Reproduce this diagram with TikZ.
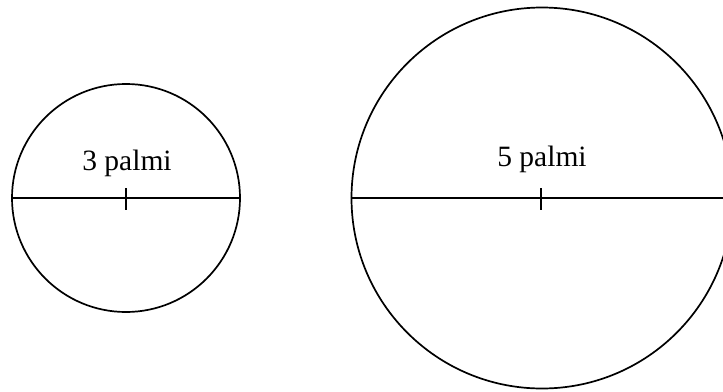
\documentclass[tikz,border=0pt]{standalone}
\usepackage{fontspec}
\setmainfont{Liberation Serif}
\begin{document}
\begin{tikzpicture}[x=1pt,y=-1pt,
  disc/.style={circle,draw,line width=1.7pt,inner sep=0pt,minimum size=#1},
  dia/.style={line width=1.8pt},
  tick/.style={line width=1.7pt},
  lab/.style={font=\fontsize{29.5}{31}\selectfont,inner sep=0pt}]
\useasboundingbox (0,0) rectangle (723,391);
\clip (0,0) rectangle (723,391);
\node[disc=228pt] (s) at (126,198) {};
\node[disc=381pt] (b) at (542,198) {};
\draw[dia] (s.west) -- (s.east);
\draw[dia] (b.west) -- (b.east);
\coordinate (st1) at (126,188);
\coordinate (st2) at (126,210);
\coordinate (bt1) at (541,188);
\coordinate (bt2) at (541,210);
\draw[tick] (st1) -- (st2);
\draw[tick] (bt1) -- (bt2);
\node[lab] (sl) at (127,163) {3 palmi};
\node[lab] (bl) at (542,159) {5 palmi};
\end{tikzpicture}
\end{document}
